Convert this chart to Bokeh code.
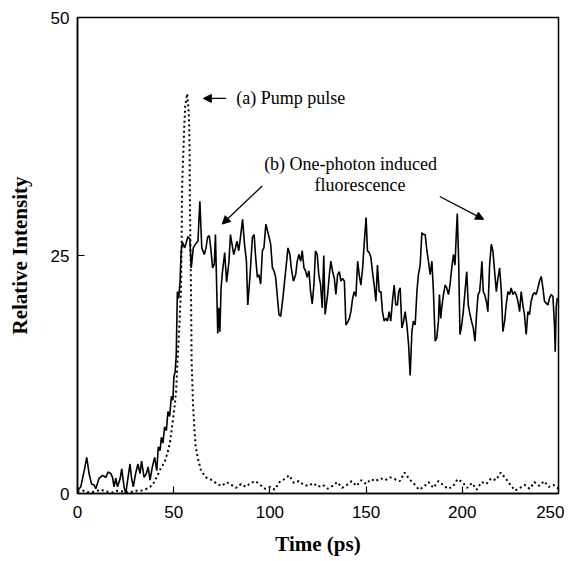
from bokeh.plotting import figure
from bokeh.models import Range1d, FixedTicker, Arrow, NormalHead, Label
from bokeh.embed import file_html
from bokeh.resources import INLINE

# ---- data ----
fluo_t = [0, 1.7, 3.5, 4.8, 6.0, 7.3, 8.6, 9.5, 11.2, 13.0, 14.7, 15.9, 17.3, 18.2, 19.0, 19.9, 20.8, 22.2, 23.0, 24.2,
          25.1, 26.0, 27.3, 28.1, 29.0, 30.2, 31.4, 32.5, 33.3, 34.6, 35.8, 36.7, 37.7, 38.9, 40.1, 41.2, 42.0, 42.9, 43.6, 44.4,
          45.3, 46.2, 47.0, 47.9, 48.8, 49.6, 50.1, 50.7, 51.3, 51.9, 52.6, 53.3, 53.9, 54.5, 55.7, 56.3, 57.4, 58.4, 59.1, 60.2,
          61.3, 62.6, 63.6, 64.6, 65.9, 66.8, 67.6, 68.5, 69.4, 70.2, 71.1, 71.7, 72.3, 72.9, 73.4, 74.0, 74.6, 75.3, 76.5, 77.5,
          78.7, 79.5, 80.3, 81.2, 82.1, 82.9, 83.8, 84.7, 85.8, 86.8, 87.8, 88.5, 89.7, 90.9, 91.8, 92.6, 93.5, 94.3, 95.2, 96.1,
          96.9, 97.9, 99.6, 100.4, 101.3, 102.1, 103.0, 103.9, 104.7, 105.6, 106.8, 108.2, 109.4, 110.4, 111.1, 112.2, 113.4, 114.2, 115.1, 116.0,
          116.8, 117.7, 118.5, 119.4, 120.3, 121.1, 122.0, 122.9, 123.7, 124.6, 125.4, 126.3, 127.2, 128.0, 128.7, 130.0, 130.9, 131.7, 132.6, 133.5,
          134.3, 135.2, 136.1, 136.9, 137.8, 138.7, 139.5, 140.4, 141.3, 142.1, 143.0, 143.8, 144.7, 145.6, 146.4, 147.3, 148.2, 149.0, 150.0, 150.7,
          151.6, 152.5, 153.3, 154.2, 155.1, 155.9, 156.8, 157.7, 158.5, 159.4, 160.3, 161.1, 162.0, 162.8, 163.7, 164.6, 165.4, 166.3, 166.9, 167.7,
          168.6, 169.5, 170.3, 171.2, 172.1, 172.9, 173.8, 174.6, 175.5, 176.4, 177.2, 178.1, 179.0, 179.8, 180.7, 181.6, 182.4, 183.3, 184.2, 185.0,
          185.9, 186.7, 187.6, 188.1, 188.8, 189.3, 190.2, 191.1, 191.9, 192.8, 193.6, 194.5, 195.4, 196.2, 196.8, 197.4, 198.1, 198.8, 199.7, 200.5,
          201.4, 202.3, 203.1, 204.0, 204.8, 205.7, 206.6, 207.4, 208.2, 209.0, 209.6, 210.2, 210.9, 211.6, 212.5, 213.3, 214.2, 215.1, 215.9, 216.8,
          217.7, 218.5, 219.4, 220.3, 221.1, 222.0, 222.8, 223.7, 224.6, 225.4, 226.3, 227.2, 228.0, 228.9, 229.8, 230.6, 231.5, 232.3, 233.2, 234.1,
          234.9, 235.8, 236.7, 237.5, 238.4, 239.3, 240.1, 241.0, 241.9, 242.7, 243.6, 244.5, 245.3, 246.2, 247.1, 247.9, 248.3, 248.8, 249.3, 250.0]
fluo_v = [0.3, 0.7, 2.4, 3.8, 2.1, 1.0, 0.9, 0.5, 1.6, 1.9, 1.7, 2.25, 2.1, 1.7, 0.7, 1.6, 0.7, 1.6, 2.6, 0.7,
          0.0, 1.3, 3.1, 1.6, 0.7, 2.1, 3.1, 2.1, 3.4, 1.7, 2.1, 2.8, 1.4, 2.8, 3.8, 2.4, 4.9, 4.5, 5.9, 5.3,
          7.0, 6.6, 8.6, 8.1, 10.2, 9.8, 12.3, 12.7, 14.4, 21.2, 20.5, 22.3, 25.5, 26.4, 25.8, 26.2, 27.0, 26.7, 23.7, 25.8,
          26.2, 26.5, 30.7, 25.8, 25.1, 25.8, 26.9, 27.1, 25.5, 23.7, 24.1, 27.2, 22.0, 16.8, 19.5, 17.0, 21.5, 23.2, 25.3, 22.2,
          24.3, 27.2, 26.2, 25.1, 25.8, 26.5, 25.5, 26.9, 28.8, 26.2, 24.4, 19.8, 23.0, 26.9, 27.2, 24.8, 22.7, 23.0, 22.0, 25.5,
          25.8, 28.3, 26.9, 26.2, 23.7, 23.4, 22.7, 20.6, 18.8, 18.6, 20.6, 23.4, 25.8, 25.1, 23.7, 22.3, 23.0, 24.4, 25.1, 24.4,
          25.5, 23.7, 23.4, 22.7, 23.4, 21.3, 19.9, 22.0, 25.5, 25.1, 23.0, 22.0, 19.5, 25.0, 18.8, 20.9, 23.0, 24.4, 23.3, 22.6,
          20.9, 23.0, 23.3, 22.3, 22.6, 22.3, 17.7, 18.0, 18.4, 19.1, 20.5, 21.2, 20.7, 24.4, 23.0, 21.9, 23.7, 26.2, 29.0, 25.5,
          25.3, 24.8, 23.3, 21.9, 20.2, 24.0, 21.2, 21.2, 19.1, 18.1, 18.4, 18.1, 19.1, 18.1, 20.2, 21.9, 19.8, 19.8, 21.2, 21.6,
          17.4, 18.1, 19.1, 17.7, 15.6, 12.4, 17.0, 18.1, 17.7, 21.2, 23.0, 24.0, 27.4, 27.2, 27.2, 25.5, 24.4, 23.0, 24.4, 21.2,
          16.0, 16.3, 18.1, 20.9, 18.4, 19.5, 20.9, 21.9, 21.6, 20.9, 21.9, 23.7, 25.1, 24.0, 26.9, 29.4, 24.4, 16.7, 17.7, 19.1,
          21.2, 23.3, 19.8, 18.8, 18.1, 17.4, 16.0, 18.8, 20.9, 21.2, 22.6, 24.4, 21.2, 20.9, 20.2, 19.1, 24.0, 26.2, 25.5, 23.3,
          21.2, 22.6, 23.7, 21.2, 17.0, 18.1, 19.8, 21.2, 20.9, 21.6, 20.9, 21.2, 20.9, 20.2, 19.1, 21.2, 19.8, 18.8, 16.7, 19.1,
          18.8, 20.2, 20.9, 21.1, 20.9, 21.6, 22.3, 22.8, 21.6, 20.2, 20.0, 19.8, 20.5, 20.9, 20.7, 17.7, 14.9, 19.5, 20.5, 20.4]

pump_t = [0, 3, 6, 9, 12, 15, 18, 21, 24, 27, 30, 33, 36, 38.9, 41.1, 43.2, 45.3, 46.7, 48.1, 48.9,
          49.8, 50.7, 51.3, 52.0, 52.9, 53.8, 54.1, 54.3, 54.6, 55.1, 55.5, 56.0, 57.0, 57.7, 58.1, 58.3, 58.4, 58.6, 58.8, 59.0,
          59.3, 60.0, 60.7, 61.4, 62.8, 64.2, 66.7, 70.0, 72.5, 75, 77.5, 80, 82.5, 85, 87.5, 90, 92.5, 95, 97.5, 100,
          102.5, 105, 107.5, 110, 112.5, 115, 117.5, 120, 122.5, 125, 127.5, 130, 132.5, 135, 137.5, 140, 142.5, 145, 147.5, 150,
          152.5, 155, 157.5, 160, 162.5, 165, 167.5, 170, 172.5, 175, 177.5, 180, 182.5, 185, 187.5, 190, 192.5, 195, 197.5, 200,
          202.5, 205, 207.5, 210, 212.5, 215, 217.5, 220, 222.5, 225, 227.5, 230, 232.5, 235, 237.5, 240, 242.5, 245, 247.5, 250]
pump_v = [0.2, 0.3, 0.1, 0.2, 0.4, 0.2, 0.1, 0.3, 0.2, 0.1, 0.3, 0.3, 0.5, 0.85, 1.7, 2.6, 3.3, 4.2, 5.4, 6.6,
          8.0, 9.6, 10.9, 14.0, 17.5, 21.5, 26.0, 31.2, 33.7, 36.2, 38.6, 40.7, 42.0, 40.4, 38.3, 34.8, 31.3, 27.8, 24.6, 21.1,
          14.0, 9.5, 7.0, 4.9, 3.5, 2.4, 1.7, 1.4, 1.0, 0.8, 1.2, 0.9, 0.6, 1.0, 0.7, 1.1, 1.3, 0.9, 0.5, 0.7,
          0.4, 1.2, 1.5, 1.9, 1.1, 1.3, 0.9, 0.8, 1.1, 0.7, 0.9, 0.5, 0.8, 1.2, 0.6, 0.9, 1.3, 0.8, 1.4, 1.0,
          1.5, 1.3, 1.6, 1.4, 1.7, 1.5, 1.3, 2.2, 1.5, 1.0, 0.4, 0.7, 1.2, 0.6, 1.3, 0.9, 0.5, 0.7, 1.5, 1.2,
          0.6, 1.1, 0.4, 1.2, 1.0, 1.6, 1.4, 2.2, 1.6, 0.9, 0.3, 0.6, 0.9, 0.5, 1.2, 0.8, 1.3, 0.7, 0.9, 0.5]

x_ticks = [0, 50, 100, 150, 200, 250]
y_ticks = [0, 25, 50]

# ---- figure ----
p = figure(width=564, height=560, output_backend="svg", toolbar_location=None,
           x_range=Range1d(0, 250), y_range=Range1d(0, 50),
           min_border_left=77, min_border_right=6, min_border_top=17, min_border_bottom=67)
p.background_fill_color = "white"
p.border_fill_color = "white"
p.grid.visible = False
p.outline_line_color = "black"
p.outline_line_width = 1.5

for ax in (p.xaxis[0], p.yaxis[0]):
    ax.major_tick_in = 7
    ax.major_tick_out = 0
    ax.minor_tick_in = 0
    ax.minor_tick_out = 0
    ax.axis_line_color = "black"
    ax.axis_line_width = 1.5
    ax.major_tick_line_width = 1.2
    ax.major_label_text_font = "Liberation Sans"
    ax.major_label_text_font_size = "17px"
    ax.major_label_text_color = "black"
    ax.axis_label_text_font = "Liberation Serif"
    ax.axis_label_text_font_style = "bold"
    ax.axis_label_text_font_size = "21px"
    ax.axis_label_text_color = "black"

p.xaxis[0].ticker = FixedTicker(ticks=x_ticks)
p.yaxis[0].ticker = FixedTicker(ticks=y_ticks)
p.xaxis[0].major_label_standoff = 12
p.yaxis[0].major_label_standoff = 8
p.xaxis[0].axis_label = "Time (ps)"
p.yaxis[0].axis_label = "Relative Intensity"
p.xaxis[0].axis_label_standoff = 11
p.yaxis[0].axis_label_standoff = 16

p.line(pump_t, pump_v, line_color="black", line_width=2, line_dash="2 3")
p.line(fluo_t, fluo_v, line_color="black", line_width=1.6)

# ---- annotations ----
font = "Liberation Serif"
p.add_layout(Label(x=82.5, y=41.5, text="(a) Pump pulse", text_font=font, text_font_size="18px",
                   text_baseline="middle", text_align="left", text_color="black"))
p.add_layout(Label(x=97.0, y=34.6, text="(b) One-photon induced", text_font=font, text_font_size="18px",
                   text_baseline="middle", text_align="left", text_color="black"))
p.add_layout(Label(x=146.8, y=32.4, text="fluorescence", text_font=font, text_font_size="18px",
                   text_baseline="middle", text_align="center", text_color="black"))

def arrow(x0, y0, x1, y1):
    p.add_layout(Arrow(end=NormalHead(size=8, fill_color="black", line_color="black"),
                       x_start=x0, y_start=y0, x_end=x1, y_end=y1,
                       line_color="black", line_width=1.3))

arrow(77.3, 41.5, 65.4, 41.5)
arrow(96.0, 32.3, 75.2, 28.3)
arrow(188.3, 31.2, 211.1, 28.8)

open("out.html", "w").write(file_html(p, INLINE))
